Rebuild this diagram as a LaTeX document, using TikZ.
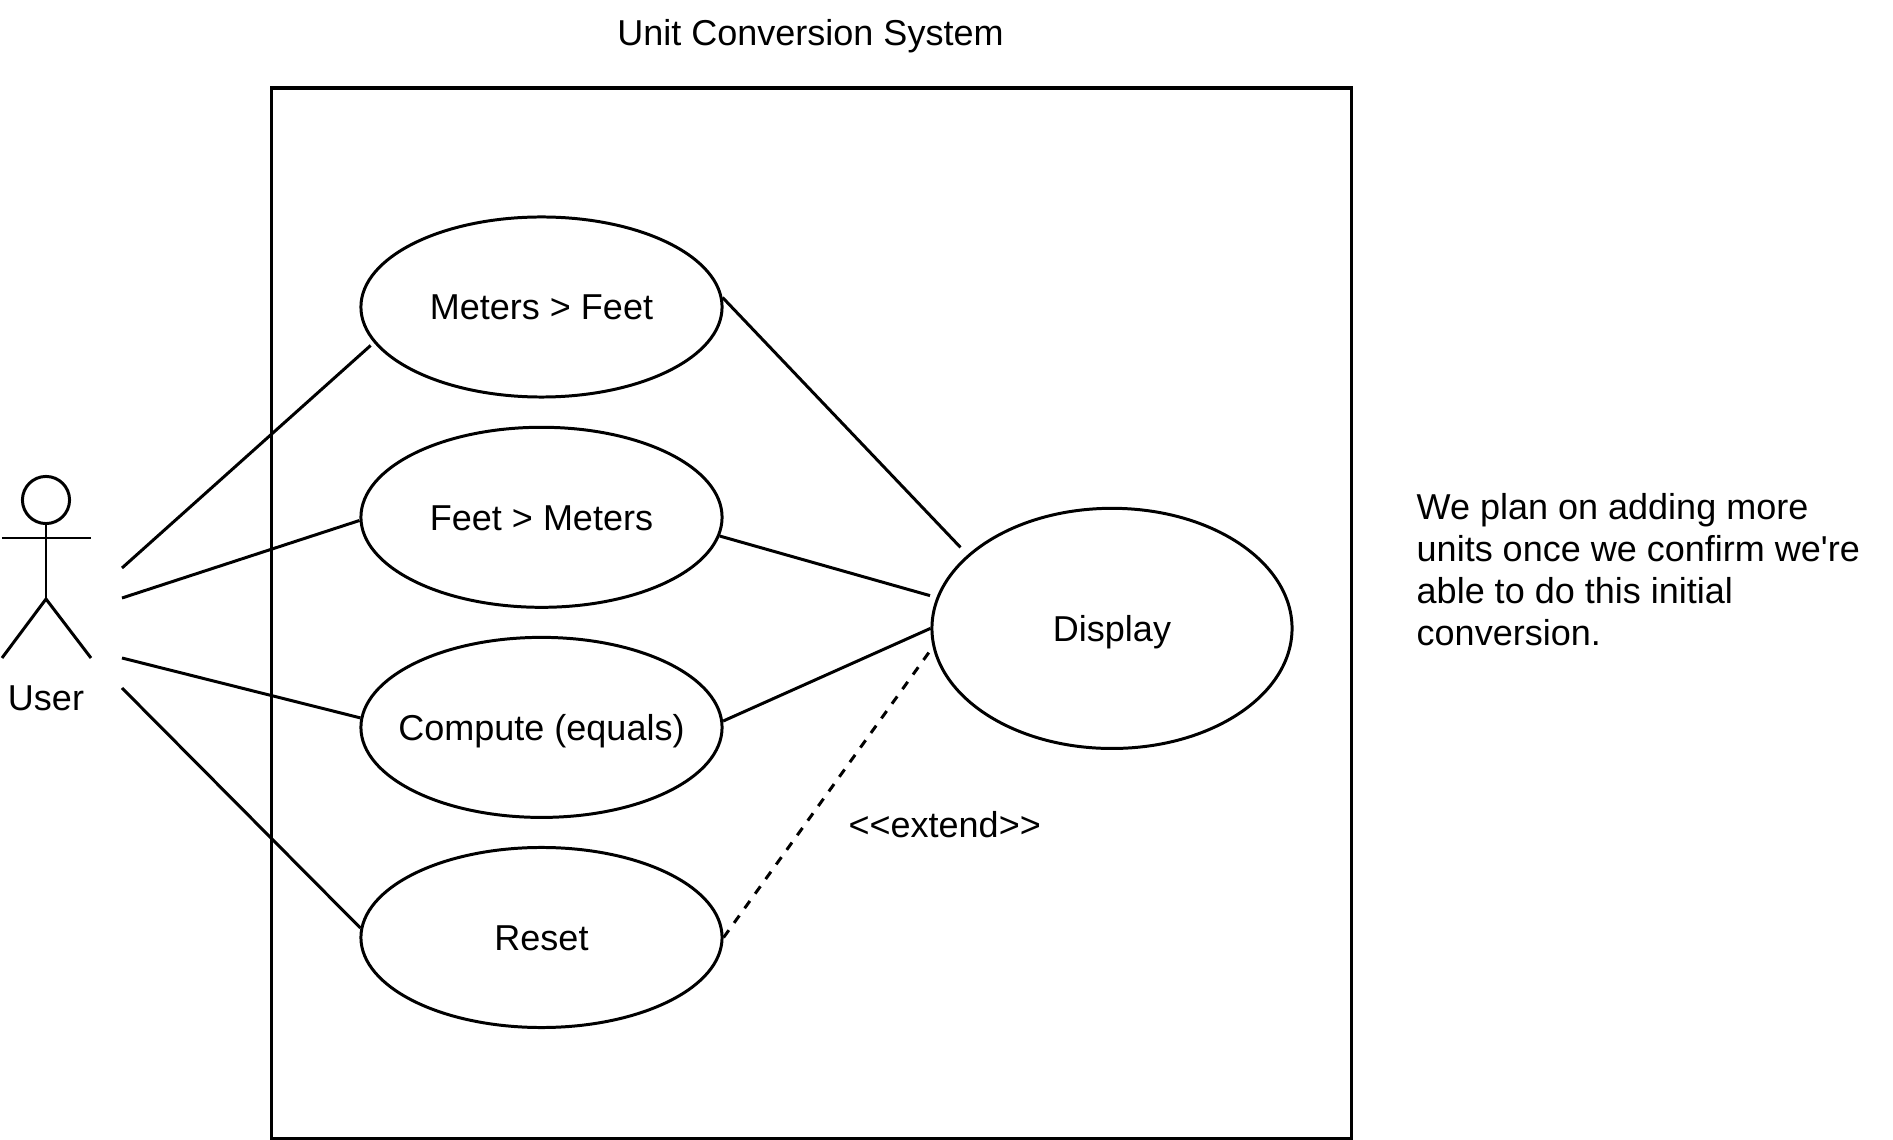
\documentclass[tikz,border=0pt]{standalone}
\usepackage{fontspec}
\setmainfont[Ligatures=TeXOff]{Liberation Sans}
\usetikzlibrary{shapes.geometric}

\tikzset{
    label/.style={font=\fontsize{10.24}{11.95}\selectfont, inner sep=0pt},
    oneline/.style={label, text height=7.33pt, text depth=0pt},
    usecase/.style={draw, ellipse, oneline, line width=0.85pt, inner xsep=-15pt, minimum width=102.7pt, minimum height=51.2pt},
    display/.style={draw, ellipse, oneline, line width=0.85pt, inner xsep=-15pt, minimum width=102.4pt, minimum height=68.3pt},
    assoc/.style={line width=0.85pt},
}

\begin{document}
\begin{tikzpicture}[x=0.01cm, y=-0.01cm]
    \useasboundingbox (0, 0) rectangle (1893, 1140);
    \draw[line width=0.94pt] (271.7, 88) rectangle (1351.6, 1138.3);
    \node[oneline] (title) at (810.5, 32.6) {Unit Conversion System};
    % actor
    \node[draw, circle, line width=0.85pt, minimum size=13.4pt, inner sep=0pt] (head) at (46, 500) {};
    \coordinate (hip) at (46, 599);
    \draw[assoc] (head.south) -- (hip);
    \draw[assoc] (2, 538) -- (91, 538);
    \draw[assoc] (2, 658) -- (hip) -- (91, 658);
    \node[oneline] (user) at (46, 698) {User};
    % use cases
    \node[usecase] (meters) at (541.5, 307) {Meters > Feet};
    \node[usecase] (feet) at (541.5, 517.3) {Feet > Meters};
    \node[usecase] (compute) at (541.5, 727.4) {Compute (equals)};
    \node[usecase] (reset) at (541.5, 937.5) {Reset};
    \node[display] (show) at (1112, 628.4) {Display};
    % free ends on the actor side
    \coordinate (u1) at (122, 568);
    \coordinate (u2) at (122, 598);
    \coordinate (u3) at (122, 658);
    \coordinate (u4) at (122, 688);
    \draw[assoc, shorten >=1.2pt] (u1) -- (meters.192.55);
    \draw[assoc] (u2) -- (feet.181.9);
    \draw[assoc] (u3) -- (compute.177.1);
    \draw[assoc] (u4) -- (reset.177.3);
    \draw[assoc, shorten >=2.9pt] (meters.3.2) -- (show.153.4);
    \draw[assoc, shorten >=1.9pt] (feet.-6.7) -- (show.170.6);
    \draw[assoc] (compute.2.9) -- (show.west);
    \draw[assoc, shorten >=1.7pt, dash pattern=on 2.56pt off 2.56pt] (reset.0.8) -- (show.186.4);
    \node[oneline] (ext) at (944.7, 824.6) {<<extend>>};
    \node[label, align=left, anchor=west] (note) at (1416, 570) {We plan on adding more\\units once we confirm we're\\able to do this initial\\conversion.};
\end{tikzpicture}
\end{document}
